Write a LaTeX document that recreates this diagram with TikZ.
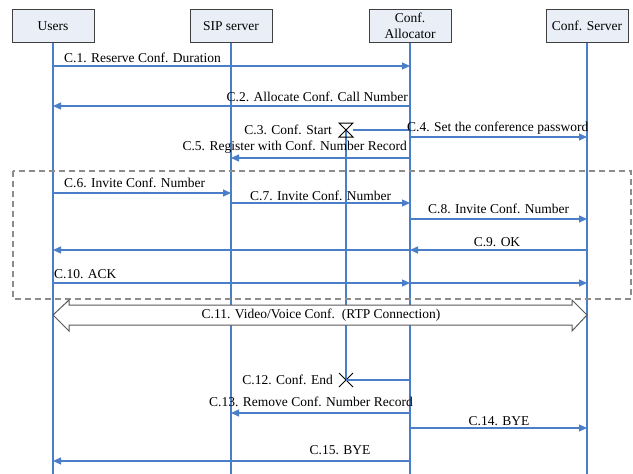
\documentclass[tikz,border=0pt]{standalone}
\usepackage{fontspec}
\setmainfont{Liberation Serif}
\usetikzlibrary{arrows.meta}
\definecolor{lifeblue}{HTML}{4A7EC8}
\definecolor{boxfill}{HTML}{E9EEF7}
\definecolor{boxline}{HTML}{404040}
\definecolor{framegray}{HTML}{8C8C8C}
\definecolor{rtpgray}{HTML}{5A5A5A}
\tikzset{
  actor/.style={draw=boxline, fill=boxfill, line width=1pt, minimum width=82pt,
    minimum height=33pt, inner sep=1pt, align=center, font=\fontsize{13.5}{16}\selectfont},
  lifeline/.style={draw=lifeblue, line width=1.2pt},
  msg/.style={draw=lifeblue, line width=1.2pt, -{Triangle[length=8pt,width=7pt]}},
  plain/.style={draw=lifeblue, line width=1.2pt},
  lbl/.style={inner sep=0pt, font=\fontsize{13.5}{16}\selectfont},
  marker/.style={draw=black, line width=1pt},
}
\begin{document}
\begin{tikzpicture}[x=1pt, y=-1pt]
\useasboundingbox[fill=white] (0,0) rectangle (633,474);

% participants
\node[actor] (users) at (53,26) {Users};
\node[actor] (sip)   at (231,26) {SIP server};
\node[actor] (alloc) at (410,26) {Conf.\\Allocator};
\node[actor] (srv)   at (587,26) {Conf. Server};

% lifelines
\coordinate (usersEnd) at (53,474);
\coordinate (sipEnd)   at (231,474);
\coordinate (allocEnd) at (410,474);
\coordinate (srvEnd)   at (587,474);
\draw[lifeline] (users.south) -- (usersEnd);
\draw[lifeline] (sip.south) -- (sipEnd);
\draw[lifeline] (alloc.south) -- (allocEnd);
\draw[lifeline] (srv.south) -- (srvEnd);

% conference timer: started at C.3, ended at C.12
\coordinate (tStart) at (346,130);
\coordinate (tEnd)   at (346,380);
\draw[lifeline] (tStart) -- (tEnd);
\draw[marker] (339,123) -- (353,123) -- (339,137) -- (353,137) -- cycle;
\draw[marker] (339,373) -- (353,387) (339,387) -- (353,373);

% dashed call-setup frame
\draw[framegray, line width=1.2pt, dash pattern=on 6pt off 4pt] (13,171) rectangle (631,299);

% messages
\draw[msg] (users |- 0,66) -- (alloc |- 0,66);
\node[lbl, anchor=west] at (64,58) {C.1. Reserve Conf. Duration};

\draw[msg] (alloc |- 0,106) -- (users |- 0,106);
\node[lbl, anchor=east] at (408,97) {C.2. Allocate Conf. Call Number};

\draw[plain] (alloc |- 0,130) -- (353,130);
\node[lbl, anchor=east] at (332,130) {C.3. Conf. Start};

\draw[msg] (alloc |- 0,137) -- (srv |- 0,137);
\node[lbl, anchor=west] at (407,128) {C.4. Set the conference password};

\draw[msg] (alloc |- 0,158) -- (sip |- 0,158);
\node[lbl, anchor=east] at (407,147) {C.5. Register with Conf. Number Record};

\draw[msg] (users |- 0,193) -- (sip |- 0,193);
\node[lbl, anchor=west] at (64,183) {C.6. Invite Conf. Number};

\draw[msg] (sip |- 0,203) -- (alloc |- 0,203);
\node[lbl, anchor=west] at (250,196) {C.7. Invite Conf. Number};

\draw[msg] (alloc |- 0,219) -- (srv |- 0,219);
\node[lbl, anchor=west] at (428,209) {C.8. Invite Conf. Number};

\draw[msg] (srv |- 0,250) -- (alloc |- 0,250);
\draw[msg] (alloc |- 0,250) -- (users |- 0,250);
\node[lbl] at (497,242) {C.9. OK};

\draw[msg] (users |- 0,283) -- (alloc |- 0,283);
\draw[msg] (alloc |- 0,283) -- (srv |- 0,283);
\node[lbl, anchor=west] at (54,274) {C.10. ACK};

% media session between users and conference server
\draw[rtpgray, fill=white, line width=1pt, line join=miter]
  (users |- 0,315) -- (69,300) -- (69,305) -- (572,305) -- (572,300)
  -- (srv |- 0,315) -- (572,331) -- (572,325) -- (69,325) -- (69,331) -- cycle;
\node[lbl] at (321,315) {C.11. Video/Voice Conf.\ \ (RTP Connection)};

\draw[plain] (alloc |- 0,380) -- (tEnd);
\node[lbl, anchor=east] at (333,380) {C.12. Conf. End};

\draw[msg] (alloc |- 0,413) -- (sip |- 0,413);
\node[lbl, anchor=east] at (413,402) {C.13. Remove Conf. Number Record};

\draw[msg] (alloc |- 0,428) -- (srv |- 0,428);
\node[lbl] at (499,421) {C.14. BYE};

\draw[msg] (alloc |- 0,461) -- (users |- 0,461);
\node[lbl] at (340,450) {C.15. BYE};
\end{tikzpicture}
\end{document}
